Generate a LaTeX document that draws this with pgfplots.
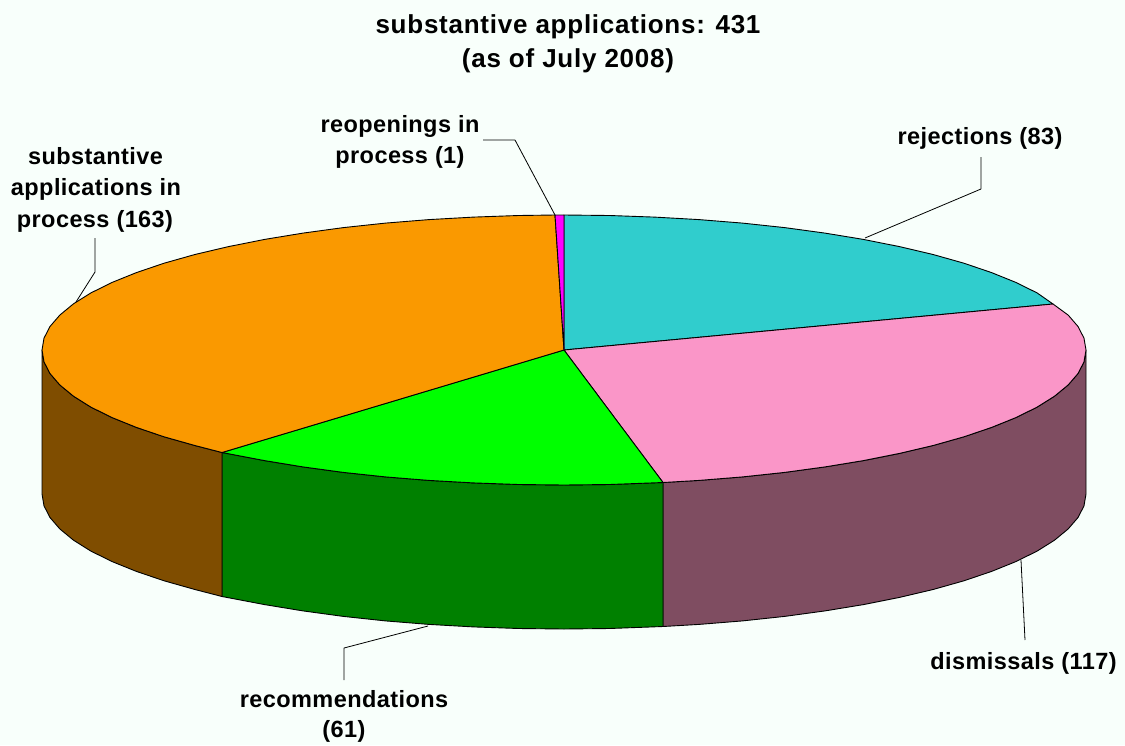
\documentclass[border=0pt]{standalone}
\usepackage{pgfplots}
\usepackage{fontspec}
\setmainfont{Liberation Sans}
\pgfplotsset{compat=1.18}
\definecolor{bgc}{RGB}{248,255,251}
\definecolor{orangec}{RGB}{250,153,0}
\definecolor{brownc}{RGB}{127,77,0}
\definecolor{greenc}{RGB}{0,255,0}
\definecolor{dgreenc}{RGB}{0,128,0}
\definecolor{pinkc}{RGB}{250,150,200}
\definecolor{maroonc}{RGB}{127,77,97}
\definecolor{cyanc}{RGB}{48,205,205}
\definecolor{magc}{RGB}{255,0,255}
\newcommand{\lab}[3]{\node[font=\fontsize{23.5}{23.5}\selectfont\bfseries\addfontfeatures{LetterSpace=1.8},anchor=base,inner sep=0pt] at #1 {#3};}
\newcommand{\tit}[2]{\node[font=\fontsize{26}{26}\selectfont\bfseries\addfontfeatures{LetterSpace=2.9},anchor=base,inner sep=0pt] at #1 {#2};}
\begin{document}
\begin{tikzpicture}
\begin{axis}[
  scale only axis,width=1125pt,height=745pt,
  xmin=0,xmax=1125,ymin=0,ymax=745,y dir=reverse,
  hide axis,clip=false,
  every axis plot/.append style={line join=round},
]
% background
\addplot[fill=bgc,draw=none] coordinates {(0,0)(1125,0)(1125,745)(0,745)} -- cycle;
% sides
\addplot[fill=maroonc,draw=black,line width=0.9pt] coordinates {
(1086,350)(1084,361.8)(1078.1,373.4)(1068.2,384.9)(1054.5,396.2)(1037.1,407.1)(1016.1,417.5)(991.6,427.4)(963.9,436.8)(933.1,445.5)(899.5,453.4)(863.4,460.6)(825,466.9)(784.6,472.4)(742.5,476.9)(699.1,480.4)(663,482.5)
(663,626.5)(699.1,624.4)(742.5,620.9)(784.6,616.4)(825,610.9)(863.4,604.6)(899.5,597.4)(933.1,589.5)(963.9,580.8)(991.6,571.4)(1016.1,561.5)(1037.1,551.1)(1054.5,540.2)(1068.2,528.9)(1078.1,517.4)(1084,505.8)(1086,494)} -- cycle;
\addplot[fill=dgreenc,draw=black,line width=0.9pt] coordinates {
(663,482.5)(609.5,484.5)(564,485)(518.5,484.5)(473.4,482.9)(428.9,480.4)(385.5,476.9)(343.4,472.4)(303,466.9)(264.6,460.6)(222,452.5)
(222,596.5)(264.6,604.6)(303,610.9)(343.4,616.4)(385.5,620.9)(428.9,624.4)(473.4,626.9)(518.5,628.5)(564,629)(609.5,628.5)(663,626.5)} -- cycle;
\addplot[fill=brownc,draw=black,line width=0.9pt] coordinates {
(222,452.5)(194.9,445.5)(164.1,436.8)(136.4,427.4)(111.9,417.5)(90.9,407.1)(73.5,396.2)(59.8,384.9)(49.9,373.4)(44,361.8)(42,350)
(42,494)(44,505.8)(49.9,517.4)(59.8,528.9)(73.5,540.2)(90.9,551.1)(111.9,561.5)(136.4,571.4)(164.1,580.8)(194.9,589.5)(222,596.5)} -- cycle;
% top faces
\addplot[fill=cyanc,draw=black,line width=0.9pt] coordinates {
(564,350)(564,215)(609.5,215.5)(654.6,217.1)(699.1,219.6)(742.5,223.1)(784.6,227.6)(825,233.1)(863.4,239.4)(899.5,246.6)(933.1,254.5)(963.9,263.2)(991.6,272.6)(1016.1,282.5)(1037.1,292.9)(1053,304)} -- cycle;
\addplot[fill=pinkc,draw=black,line width=0.9pt] coordinates {
(564,350)(1053,304)(1068.2,315.1)(1078.1,326.6)(1084,338.2)(1086,350)(1084,361.8)(1078.1,373.4)(1068.2,384.9)(1054.5,396.2)(1037.1,407.1)(1016.1,417.5)(991.6,427.4)(963.9,436.8)(933.1,445.5)(899.5,453.4)(863.4,460.6)(825,466.9)(784.6,472.4)(742.5,476.9)(699.1,480.4)(663,482.5)} -- cycle;
\addplot[fill=greenc,draw=black,line width=0.9pt] coordinates {
(564,350)(663,482.5)(609.5,484.5)(564,485)(518.5,484.5)(473.4,482.9)(428.9,480.4)(385.5,476.9)(343.4,472.4)(303,466.9)(264.6,460.6)(222,452.5)} -- cycle;
\addplot[fill=orangec,draw=black,line width=0.9pt] coordinates {
(564,350)(222,452.5)(194.9,445.5)(164.1,436.8)(136.4,427.4)(111.9,417.5)(90.9,407.1)(73.5,396.2)(59.8,384.9)(49.9,373.4)(44,361.8)(42,350)(44,338.2)(49.9,326.6)(59.8,315.1)(73.5,303.8)(90.9,292.9)(111.9,282.5)(136.4,272.6)(164.1,263.2)(194.9,254.5)(228.5,246.6)(264.6,239.4)(303,233.1)(343.4,227.6)(385.5,223.1)(428.9,219.6)(473.4,217.1)(518.5,215.5)(555,215)} -- cycle;
\addplot[fill=magc,draw=black,line width=0.9pt] coordinates {(564,350)(555,215)(564,215)} -- cycle;
% leaders
\addplot[black,line width=0.8pt] coordinates {(483,140)(515,140)(555,215)};
\addplot[black,line width=0.8pt] coordinates {(95,238)(95,272)(76,302)};
\addplot[black,line width=0.8pt] coordinates {(981,157)(981,189)(865,238)};
\addplot[black,line width=0.8pt] coordinates {(344,680)(344,648)(428,626)};
\addplot[black,line width=0.8pt] coordinates {(1025,640)(1023,600)(1021,560)};
% texts
\tit{(axis cs:568,33)}{substantive applications: 431}
\tit{(axis cs:568,67)}{(as of July 2008)}
\lab{(axis cs:400,132)}{}{reopenings in}
\lab{(axis cs:400,163)}{}{process (1)}
\lab{(axis cs:95.5,164)}{}{substantive}
\lab{(axis cs:96,195)}{}{applications in}
\lab{(axis cs:95,227)}{}{process (163)}
\lab{(axis cs:980,144)}{}{rejections (83)}
\lab{(axis cs:344,707)}{}{recommendations}
\lab{(axis cs:344,737)}{}{(61)}
\lab{(axis cs:1023.5,669)}{}{dismissals (117)}
\end{axis}
\end{tikzpicture}
\end{document}
